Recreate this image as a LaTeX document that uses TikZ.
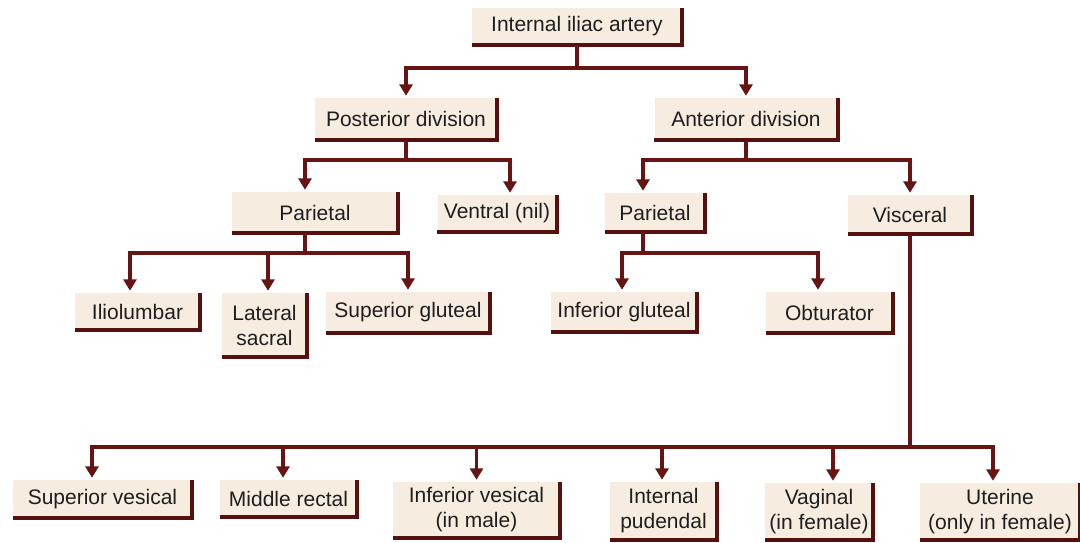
\documentclass[tikz,border=0pt]{standalone}
\usepackage{fontspec}
\setmainfont{Liberation Sans}
\usetikzlibrary{arrows.meta}
\definecolor{cream}{HTML}{F7ECE0}
\definecolor{conn}{HTML}{661414}
\definecolor{shd}{HTML}{561010}
\definecolor{txt}{HTML}{1E1E1E}
\tikzset{
  bx/.style 2 args={fill=cream, inner sep=0pt, align=center, text=txt,
    minimum width=#1, minimum height=#2, font=\fontsize{21}{25}\selectfont},
  ln/.style={draw=conn, line width=3.1pt},
  arr/.style={ln, -{Triangle[width=13pt,length=11.5pt]}, shorten >=2pt},
  shadowline/.style={draw=shd, line width=4.2pt}
}
\begin{document}
\begin{tikzpicture}[x=1pt,y=-1pt]
\useasboundingbox[fill=white] (0,0) rectangle (1080,542);
% boxes
\node[bx={210pt}{37pt}] (top) at (577,26.5) {Internal iliac artery};
\node[bx={182pt}{42pt}] (post) at (406,119) {Posterior division};
\node[bx={183pt}{42pt}] (ant) at (746,119) {Anterior division};
\node[bx={166pt}{41pt}] (par1) at (315,212.5) {Parietal};
\node[bx={119pt}{37pt}] (vent) at (497,213.5) {Ventral (nil)};
\node[bx={100pt}{39pt}] (par2) at (655,212.5) {Parietal};
\node[bx={124pt}{39pt}] (visc) at (910,214.5) {Visceral};
\node[bx={125pt}{37pt}] (ilio) at (137.5,311.5) {Iliolumbar};
\node[bx={85pt}{64pt}] (lat) at (264.5,325) {Lateral\\sacral};
\node[bx={164pt}{41pt}] (supg) at (408,312.5) {Superior gluteal};
\node[bx={146pt}{40pt}] (infg) at (624,312) {Inferior gluteal};
\node[bx={127pt}{41pt}] (obt) at (829.5,312.5) {Obturator};
\node[bx={179pt}{38pt}] (supv) at (102.5,499) {Superior vesical};
\node[bx={137pt}{37pt}] (midr) at (288.5,498.5) {Middle rectal};
\node[bx={167pt}{56pt}] (infv) at (476.5,510) {Inferior vesical\\(in male)};
\node[bx={107pt}{58pt}] (intp) at (663.5,511) {Internal\\pudendal};
\node[bx={108pt}{57pt}] (vag) at (819,511.5) {Vaginal\\(in female)};
\node[bx={160pt}{57pt}] (ute) at (1000,511.5) {Uterine\\(only in female)};
% shadow lines
\foreach \n in {top,post,ant,par1,vent,par2,visc,ilio,lat,supg,infg,obt,supv,midr,infv,intp,vag,ute}
  \draw[shadowline] (\n.north east) -- (\n.south east) -- (\n.south west);
% junctions
\coordinate (j0) at (577,68);
\coordinate (j1) at (406,160);
\coordinate (j2) at (746,160);
\coordinate (j3) at (305,253);
\coordinate (j4) at (643,253);
\coordinate (j5) at (910,447);
% connectors
\draw[ln] (top.south) -- (j0);
\draw[arr] (j0) -| (post.north);
\draw[arr] (j0) -| (ant.north);
\draw[ln] (post.south) -- (j1);
\draw[arr] (j1) -| ([xshift=-10pt]par1.north);
\draw[arr] (j1) -| ([xshift=13pt]vent.north);
\draw[ln] (ant.south) -- (j2);
\draw[arr] (j2) -| ([xshift=-12pt]par2.north);
\draw[arr] (j2) -| (visc.north);
\draw[ln] ([xshift=-10pt]par1.south) -- (j3);
\draw[arr] (j3) -| ([xshift=-7.5pt]ilio.north);
\draw[arr] (j3) -| ([xshift=3.5pt]lat.north);
\draw[arr] (j3) -| (supg.north);
\draw[ln] ([xshift=-12pt]par2.south) -- (j4);
\draw[arr] (j4) -| ([xshift=-2pt]infg.north);
\draw[arr] (j4) -| ([xshift=-11.5pt]obt.north);
\draw[ln] (visc.south) -- (j5);
\draw[arr] (j5) -| ([xshift=-10.5pt]supv.north);
\draw[arr] (j5) -| ([xshift=-5.5pt]midr.north);
\draw[arr] (j5) -| (infv.north);
\draw[arr] (j5) -| ([xshift=-1.5pt]intp.north);
\draw[arr] (j5) -| ([xshift=14pt]vag.north);
\draw[arr] (j5) -| ([xshift=-7pt]ute.north);
\end{tikzpicture}
\end{document}
